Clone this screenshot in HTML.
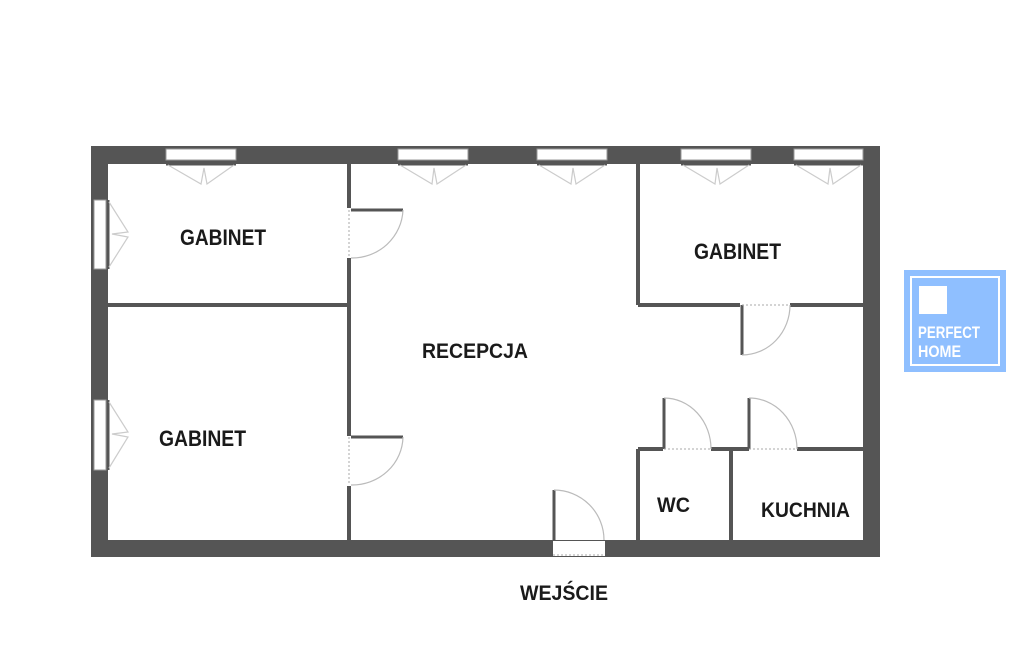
<!DOCTYPE html>
<html><head><meta charset="utf-8"><style>html,body{margin:0;padding:0;background:#fff}svg{display:block}text{font-family:"Liberation Sans",sans-serif;font-weight:bold;fill:#1a1a1a}</style></head>
<body>
<svg width="1023" height="661" viewBox="0 0 1023 661" xmlns="http://www.w3.org/2000/svg">
<rect width="1023" height="661" fill="#fff"/>
<path d="M91 146H880V557H91Z M108 164V540H863V164Z" fill="#555" fill-rule="evenodd"/>
<g fill="#fff" stroke="#999" stroke-width="1">
<rect x="166" y="149" width="70" height="11"/>
<rect x="398" y="149" width="70" height="11"/>
<rect x="537" y="149" width="70" height="11"/>
<rect x="681" y="149" width="70" height="11"/>
<rect x="794" y="149" width="69" height="11"/>
<rect x="94" y="200" width="12" height="69"/>
<rect x="94" y="400" width="12" height="70"/>
</g>
<g stroke="#555" stroke-width="3">
<line x1="166" y1="164" x2="236" y2="164"/><line x1="398" y1="164" x2="468" y2="164"/>
<line x1="537" y1="164" x2="607" y2="164"/><line x1="681" y1="164" x2="751" y2="164"/>
<line x1="794" y1="164" x2="863" y2="164"/>
<line x1="108" y1="200" x2="108" y2="269"/><line x1="108" y1="400" x2="108" y2="470"/>
</g>
<g stroke="#ccc" stroke-width="1.2" fill="none">
<path d="M168 165L201 184L204 168L207 184L234 165"/>
<path d="M400 165L432 184L434 168L437 184L466 165"/>
<path d="M539 165L571 184L573 168L576 184L605 165"/>
<path d="M683 165L715 184L717 168L720 184L749 165"/>
<path d="M796 165L828 184L830 168L833 184L861 165"/>
<path d="M109 202L128 232L112 234L128 237L109 267"/>
<path d="M109 402L128 432L112 434L128 437L109 468"/>
</g>
<g stroke="#555" stroke-width="4" fill="none">
<line x1="349" y1="164" x2="349" y2="208"/><line x1="349" y1="258" x2="349" y2="436"/><line x1="349" y1="486" x2="349" y2="540"/>
<line x1="108" y1="305" x2="349" y2="305"/>
<line x1="638" y1="164" x2="638" y2="305"/>
<line x1="638" y1="305" x2="740" y2="305"/><line x1="790" y1="305" x2="863" y2="305"/>
<line x1="638" y1="449" x2="663" y2="449"/><line x1="711" y1="449" x2="749" y2="449"/><line x1="797" y1="449" x2="863" y2="449"/>
<line x1="638" y1="449" x2="638" y2="540"/><line x1="731" y1="449" x2="731" y2="540"/>
</g>
<rect x="553" y="541" width="52" height="15" fill="#fff"/>
<line x1="553" y1="555" x2="605" y2="555" stroke="#aaa" stroke-dasharray="2 2"/>
<g stroke="#555" stroke-width="3">
<line x1="351" y1="210" x2="403" y2="210"/>
<line x1="351" y1="437" x2="403" y2="437"/>
<line x1="742" y1="305" x2="742" y2="355"/>
<line x1="664" y1="398" x2="664" y2="449"/>
<line x1="749" y1="398" x2="749" y2="449"/>
<line x1="554" y1="490" x2="554" y2="540"/>
</g>
<g stroke="#bbb" stroke-width="1.2" fill="none">
<path d="M403 210A51 50 0 0 1 351 258"/>
<path d="M403 437A51 49 0 0 1 351 485"/>
<path d="M742 355A48 50 0 0 0 790 305"/>
<path d="M664 398A47 51 0 0 1 711 449"/>
<path d="M749 398A48 51 0 0 1 797 449"/>
<path d="M554 490A50 50 0 0 1 604 540"/>
</g>
<g stroke="#aaa" stroke-width="1" stroke-dasharray="2 2">
<line x1="349" y1="210" x2="349" y2="258"/><line x1="349" y1="437" x2="349" y2="485"/>
<line x1="742" y1="305" x2="790" y2="305"/><line x1="664" y1="449" x2="711" y2="449"/><line x1="749" y1="449" x2="797" y2="449"/>
</g>
<text x="180" y="245" font-size="22" textLength="86" lengthAdjust="spacingAndGlyphs">GABINET</text>
<text x="694" y="259" font-size="22" textLength="87" lengthAdjust="spacingAndGlyphs">GABINET</text>
<text x="159" y="446" font-size="22" textLength="87" lengthAdjust="spacingAndGlyphs">GABINET</text>
<text x="422" y="358" font-size="21" textLength="106" lengthAdjust="spacingAndGlyphs">RECEPCJA</text>
<text x="657" y="512" font-size="21" textLength="33" lengthAdjust="spacingAndGlyphs">WC</text>
<text x="761" y="517" font-size="21" textLength="89" lengthAdjust="spacingAndGlyphs">KUCHNIA</text>
<text x="520" y="600" font-size="21" textLength="88" lengthAdjust="spacingAndGlyphs">WEJŚCIE</text>
<rect x="904" y="270" width="102" height="102" fill="#8fbfff"/>
<rect x="911" y="277" width="88" height="88" fill="none" stroke="#fff" stroke-width="2"/>
<rect x="919" y="286" width="28" height="28" fill="#fff"/>
<text x="918" y="338" font-size="17" style="fill:#fff" textLength="62" lengthAdjust="spacingAndGlyphs">PERFECT</text>
<text x="918" y="357" font-size="17" style="fill:#fff" textLength="43" lengthAdjust="spacingAndGlyphs">HOME</text>
</svg>
</body></html>
